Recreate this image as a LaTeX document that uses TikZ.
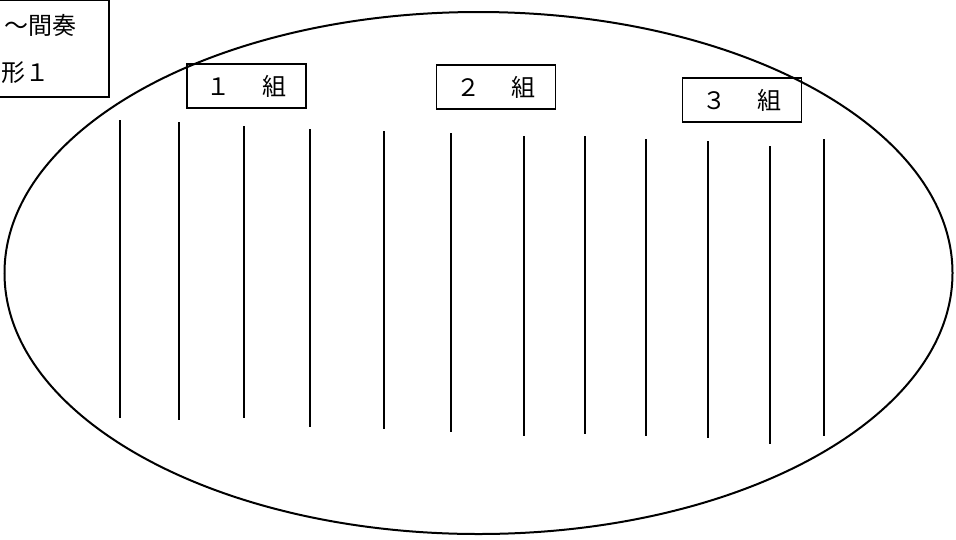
\documentclass[tikz,border=0pt]{standalone}
\usepackage{fontspec}
\newfontfamily\cjk{Noto Sans CJK JP}
\begin{document}
\begin{tikzpicture}[x=1pt,y=-1pt,
  line/.style={line width=2.2pt},
  label/.style={draw,line width=1.5pt,font=\cjk\fontsize{24}{28}\selectfont,minimum width=119pt,minimum height=44pt,inner sep=0pt},
  txt/.style={font=\cjk\fontsize{24}{28}\selectfont,inner sep=0pt}]
\useasboundingbox (0,0) rectangle (956,539);
% top-left box (cut off)
\draw[line width=1.5pt] (-20,0) -- (109,0) -- (109,97) -- (-20,97);
\node[txt,anchor=east] (t1) at (77,25) {～間奏};
\node[txt,anchor=west] (t2) at (1,73) {形１};
% ellipse
\draw[line width=2pt] (478.5,273) ellipse [x radius=474, y radius=261];
% group labels
\node[label] (g1) at (246.5,86) {１\hspace{0.3em}　組};
\node[label] (g2) at (496,87) {２\hspace{0.3em}　組};
\node[label] (g3) at (742,100) {３\hspace{0.3em}　組};
% vertical lines
\foreach \i/\x/\a/\b in {1/120/120/418, 2/179/122/420, 3/244/126/418, 4/310/129/427, 5/384/131/429, 6/451/133/432, 7/524/136/436, 8/585/136/434, 9/646/139/436, 10/708/141/438, 11/770/146/444, 12/824/139/436}{
  \coordinate (a\i) at (\x,\a);
  \coordinate (b\i) at (\x,\b);
  \draw[line] (a\i) -- (b\i);
}
\end{tikzpicture}
\end{document}
